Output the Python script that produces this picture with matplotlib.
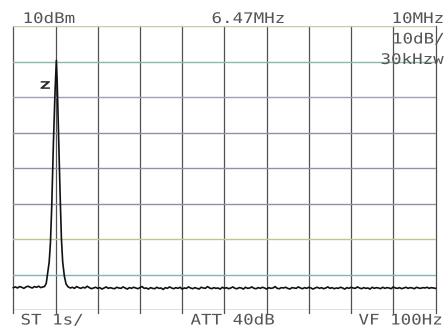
#!/usr/bin/env python3
"""Spectrum analyzer screen: single carrier, 10 dB/div, 10 divisions span."""

import matplotlib
matplotlib.use("Agg")
import matplotlib.pyplot as plt
from matplotlib import patheffects
from matplotlib.transforms import Affine2D

# === Trace data (x in divisions, level in dBm) ===
floor_left_x = [round(0.05 * i, 2) for i in range(15)]
floor_left_db = [-63.7, -63.5, -63.8, -63.4, -63.6, -63.9, -63.5, -63.3,
                 -63.6, -63.8, -63.4, -63.6, -63.3, -63.7, -63.5]

peak_x = [0.74, 0.78, 0.81, 0.85, 0.88, 0.91, 0.95, 0.99, 1.02,
          1.04, 1.07, 1.11, 1.14, 1.17, 1.21, 1.25]
peak_db = [-63.4, -62.5, -60.0, -56.5, -51.0, -41.0, -23.0, -8.0, 0.3,
           -6.0, -20.0, -38.0, -50.0, -56.5, -60.5, -62.7]

floor_right_x = [round(1.30 + 0.05 * i, 2) for i in range(175)]
floor_right_db = [
    -63.5, -63.8, -63.6, -63.9, -63.4, -63.7, -63.9, -63.6, -63.8, -63.3,
    -63.7, -64.0, -63.8, -63.6, -63.9, -63.7, -64.1, -63.8, -63.5, -63.9,
    -63.7, -63.9, -64.0, -63.6, -63.8, -63.9, -63.5, -63.8, -64.1, -63.7,
    -63.9, -63.6, -63.8, -64.0, -63.7, -63.4, -63.9, -63.8, -64.1, -63.7,
    -63.9, -64.0, -63.6, -63.9, -63.8, -64.2, -63.7, -63.9, -63.5, -63.8,
    -64.0, -63.7, -63.9, -63.6, -64.1, -63.8, -63.9, -63.5, -63.8, -64.0,
    -63.7, -63.9, -64.1, -63.6, -63.8, -63.9, -63.4, -63.8, -64.0, -63.7,
    -63.9, -63.8, -64.1, -63.6, -63.9, -63.7, -64.0, -63.8, -63.5, -63.9,
    -64.0, -63.7, -63.8, -64.1, -63.6, -63.9, -63.8, -63.5, -63.9, -64.0,
    -63.7, -63.9, -63.6, -63.8, -64.1, -63.7, -63.9, -63.8, -63.4, -63.9,
    -64.0, -63.7, -63.8, -63.6, -63.9, -64.1, -63.7, -63.8, -63.9, -63.5,
    -63.8, -64.0, -63.7, -63.9, -63.6, -63.8, -64.1, -63.8, -63.6, -63.9,
    -63.7, -64.0, -63.8, -63.5, -63.9, -63.7, -64.0, -63.8, -63.9, -63.6,
    -63.8, -64.1, -63.7, -63.9, -63.6, -63.8, -63.9, -63.5, -63.8, -64.0,
    -63.7, -63.9, -63.8, -64.1, -63.6, -63.9, -63.7, -63.8, -64.0, -63.6,
    -63.9, -63.7, -63.8, -64.0, -63.5, -63.8, -63.9, -63.7, -64.0, -63.8,
    -63.6, -63.9, -63.7, -63.8, -64.0, -63.6, -63.8, -63.9, -63.7, -63.8,
    -63.6, -63.9, -63.7, -63.8, -63.9,
]

# grid: 10 x-divisions, 8 y-divisions from +10 dBm (ref) down to -70 dBm
x_div = list(range(0, 11))
y_lines = [10, 0, -10, -20, -30, -40, -50, -60, -70]
y_colors = ["#c8c8aa", "#8ab8ae", "#a89cb2", "#8e93a4", "#8e93a4",
            "#8e93a4", "#c2c494", "#86b4b4", "#606060"]

# screen annotations (text, x px, baseline y px)
labels = [
    ("10dBm", 22.5, 23.0),
    ("6.47MHz", 211.5, 23.0),
    ("10MHz", 391.5, 23.0),
    ("10dB/", 392.0, 43.5),
    ("30kHzw", 380.5, 64.0),
    ("ST 1s/", 20.5, 324.5),
    ("ATT 40dB", 190.5, 324.5),
    ("VF 100Hz", 358.5, 324.5),
]

W, H = 444, 328
TEXT_COLOR = "#555555"


class Stretch(patheffects.AbstractPathEffect):
    """Widen glyphs horizontally about the text origin (plotter-style font)."""

    def __init__(self, sx):
        super().__init__()
        self.sx = sx

    def draw_path(self, renderer, gc, tpath, affine, rgbFace=None):
        renderer.draw_path(gc, tpath, Affine2D().scale(self.sx, 1) + affine, rgbFace)


fig = plt.figure(figsize=(W / 100, H / 100), dpi=100)
left, right, top, bottom = 13.3, 435.5, 26.0, 310.0
ax = fig.add_axes([left / W, 1 - bottom / H, (right - left) / W, (bottom - top) / H])
ax.set_xlim(0, 10)
ax.set_ylim(-70, 10)
ax.axis("off")

for xv in x_div:
    ax.axvline(xv, ymin=-0.012, ymax=1, color="#505050", lw=0.9, clip_on=False, zorder=1)
for yv, c in zip(y_lines, y_colors):
    ax.axhline(yv, color=c, lw=1.0, zorder=1)

trace_x = floor_left_x + peak_x + floor_right_x
trace_db = floor_left_db + peak_db + floor_right_db
ax.plot(trace_x, trace_db, color="#111111", lw=1.2, zorder=3, clip_on=False)

# marker label next to the peak
ax.text(0.63, -7.7, "Z", fontsize=7.6, fontweight="bold", color="#2a2a2a",
        family="DejaVu Sans", ha="left", va="baseline",
        path_effects=[Stretch(1.4)], zorder=4)

for s, px, py in labels:
    fig.text(px / W, 1 - py / H, s, fontsize=10.5, family="DejaVu Sans Mono",
             color=TEXT_COLOR, ha="left", va="baseline",
             path_effects=[Stretch(1.2)])

fig.savefig("out.png", dpi=100, facecolor="white")
